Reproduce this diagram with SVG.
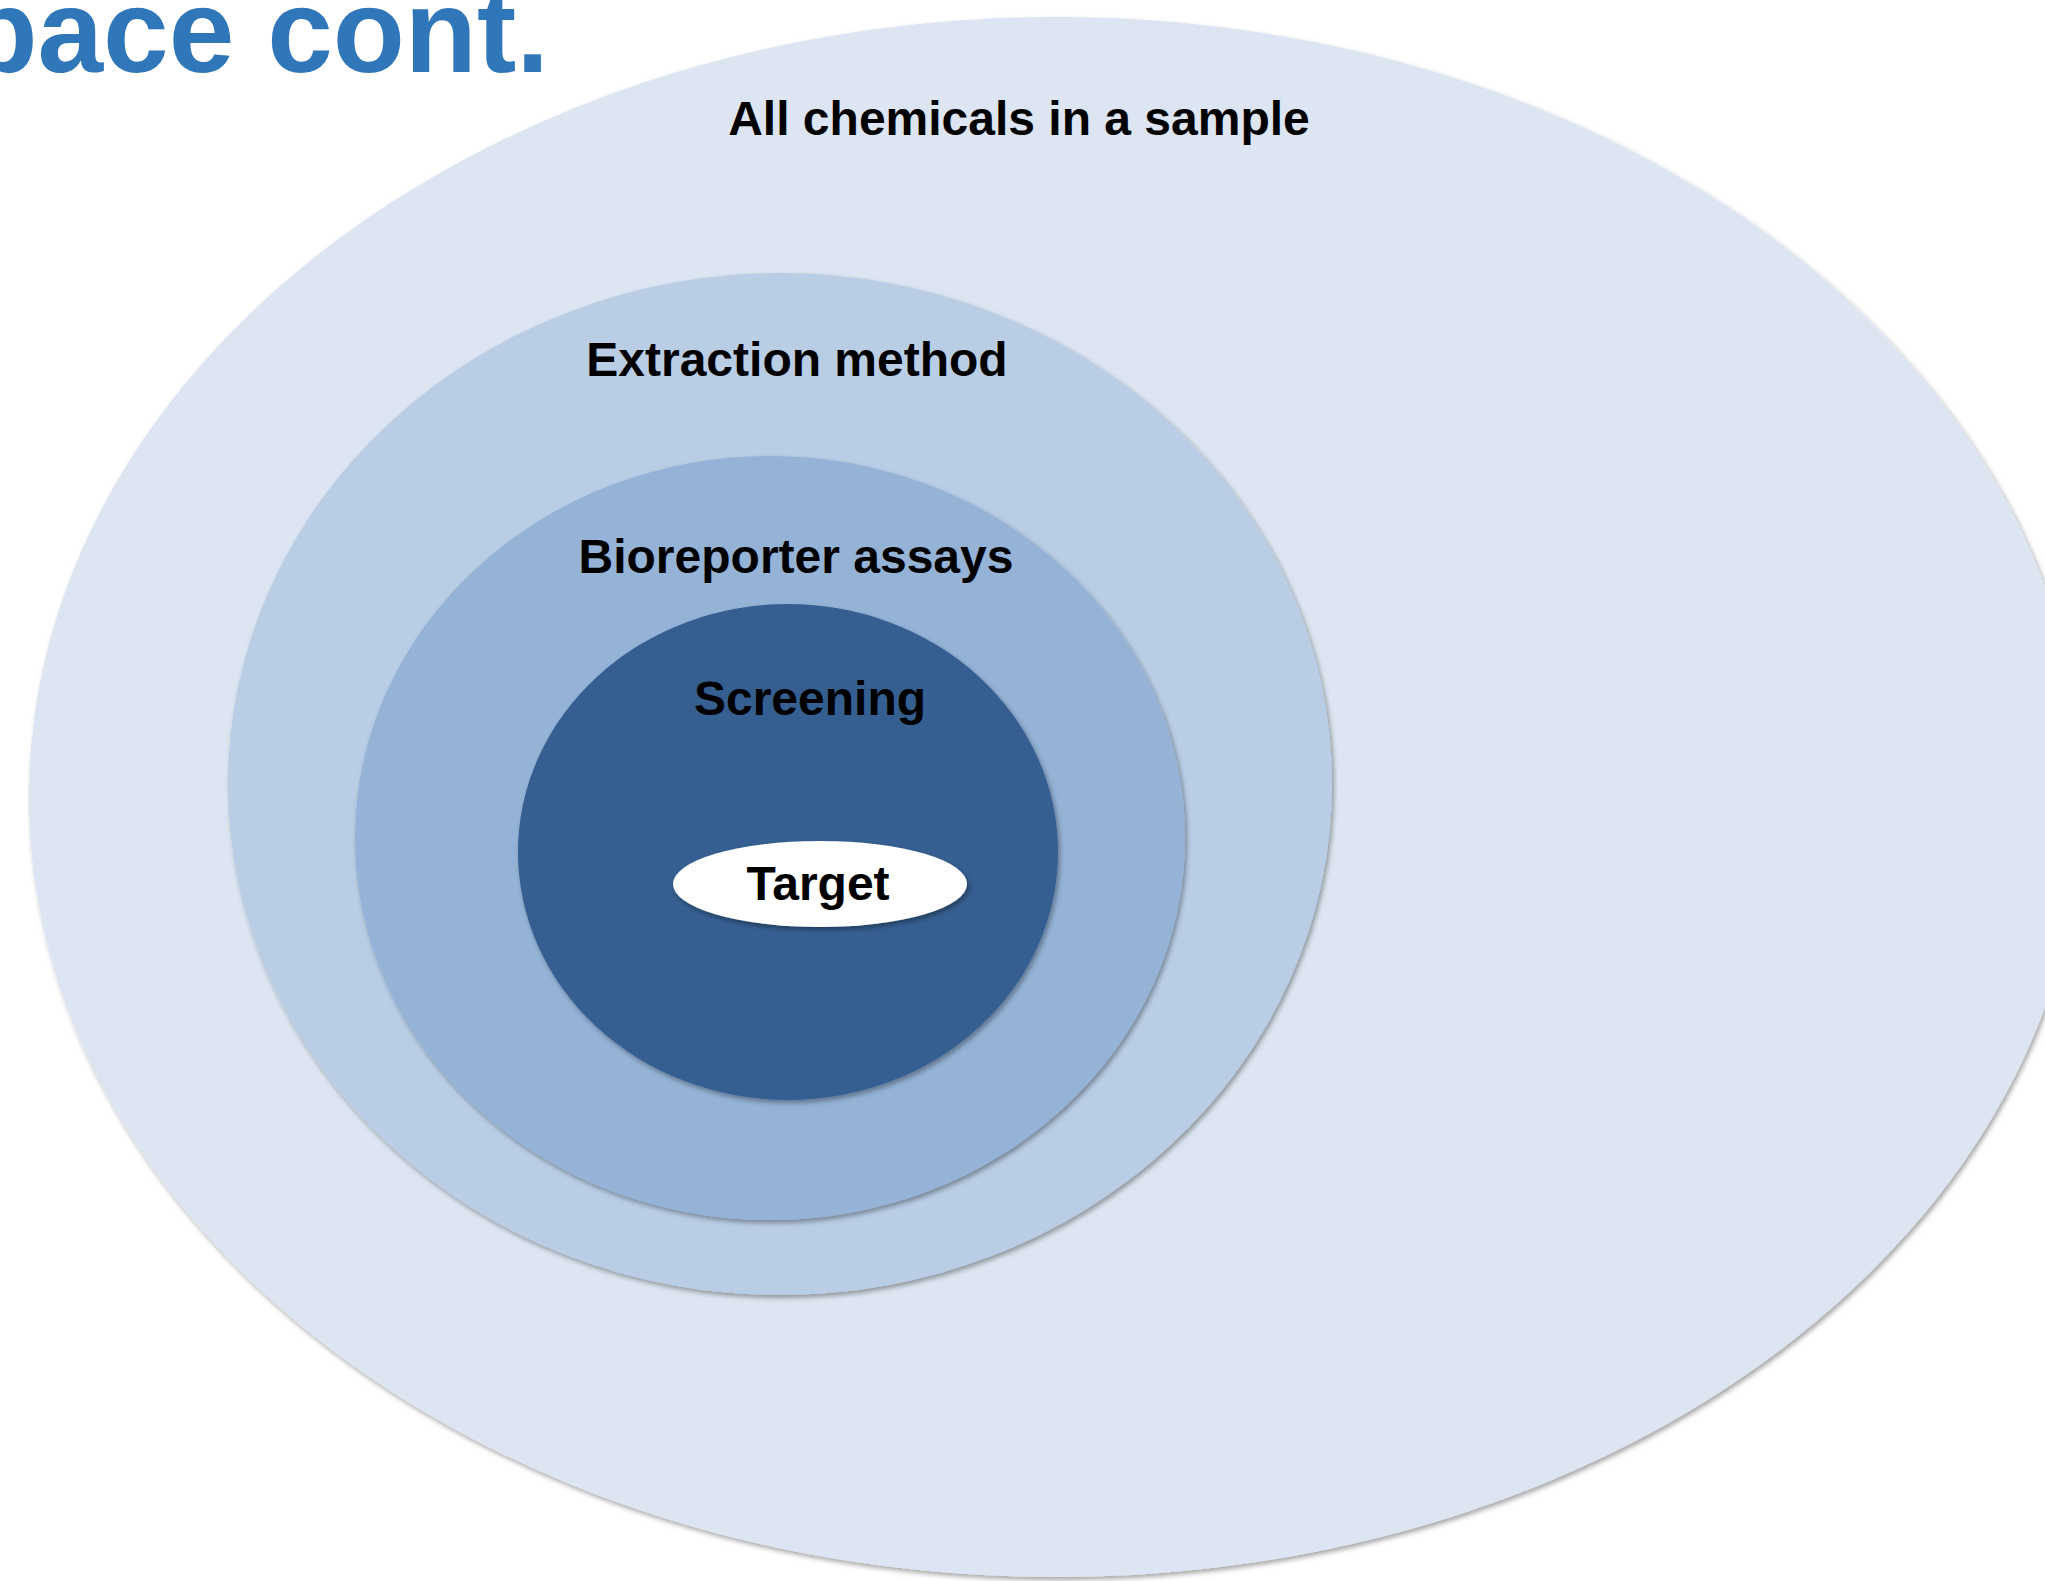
<svg xmlns="http://www.w3.org/2000/svg" width="2045" height="1581" viewBox="0 0 2045 1581">
<defs>
<filter id="sh" x="-5%" y="-5%" width="110%" height="110%">
<feDropShadow dx="2" dy="3" stdDeviation="2.5" flood-color="#000" flood-opacity="0.35"/>
</filter>
<style>
.lbl{font-family:"Liberation Sans",Arial,sans-serif;font-weight:bold;font-size:48px;fill:#000;text-anchor:middle}
.title{font-family:"Liberation Sans",Arial,sans-serif;font-weight:bold;font-size:118px;fill:#3077BA;text-anchor:end}
</style>
</defs>
<rect width="2045" height="1581" fill="#fff"/>
<text class="title" x="549" y="72">pace cont.</text>
<g id="all-chemicals">
<ellipse cx="1056" cy="797" rx="1027" ry="780" fill="#DCE5F1" filter="url(#sh)"/>
<text class="lbl" x="1019" y="135">All chemicals in a sample</text>
</g>
<g id="extraction-method">
<ellipse cx="780" cy="784" rx="552" ry="511" fill="#B9CDE5" filter="url(#sh)"/>
<text class="lbl" x="797" y="376">Extraction method</text>
</g>
<g id="bioreporter-assays">
<ellipse cx="770" cy="838" rx="415" ry="382" fill="#95B3D7" filter="url(#sh)"/>
<text class="lbl" x="796" y="573">Bioreporter assays</text>
</g>
<g id="screening">
<ellipse cx="788" cy="852" rx="270" ry="248" fill="#365F91" filter="url(#sh)"/>
<text class="lbl" x="810" y="715">Screening</text>
</g>
<g id="target">
<ellipse cx="820" cy="884" rx="147" ry="43" fill="#fff" filter="url(#sh)"/>
<text class="lbl" x="818" y="900">Target</text>
</g>
<g id="connectors"/>
</svg>
